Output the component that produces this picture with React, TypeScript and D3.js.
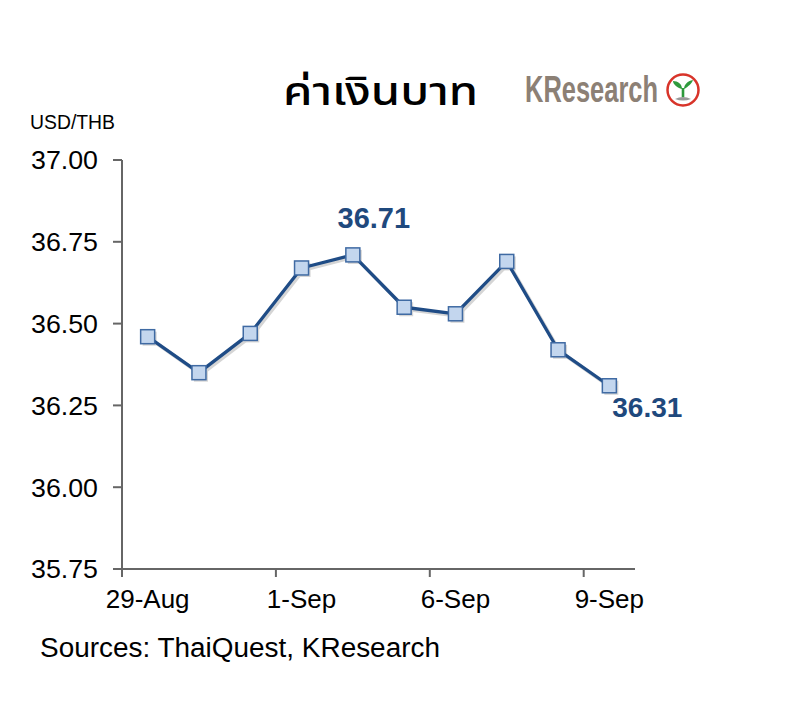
import React from "react";
import * as d3 from "d3";

const dates = ["29-Aug", "30-Aug", "31-Aug", "1-Sep", "2-Sep", "5-Sep", "6-Sep", "7-Sep", "8-Sep", "9-Sep"];
const rates = [36.46, 36.35, 36.47, 36.67, 36.71, 36.55, 36.53, 36.69, 36.42, 36.31];
const yTicks = [35.75, 36.0, 36.25, 36.5, 36.75, 37.0];
const labeledIdx = [0, 3, 6, 9];
const annotations = [
  { i: 4, text: "36.71" },
  { i: 9, text: "36.31" },
];

const W = 787;
const H = 726;
const left = 122, right = 635, top = 160, bottom = 569;
const font = "'Liberation Sans', Arial, sans-serif";

export default function App() {
  const x = d3.scaleBand<string>().domain(dates).range([left, right]).padding(0);
  const y = d3.scaleLinear().domain([35.75, 37.0]).range([bottom, top]);
  const cx = (i: number) => (x(dates[i]) as number) + x.bandwidth() / 2;
  const line = d3
    .line<number>()
    .x((_, i) => cx(i))
    .y((d) => y(d));
  const path = line(rates) || "";
  const lineColor = "#1F4C86";

  return (
    <svg width={W} height={H} style={{ position: "absolute", left: 0, top: 0, background: "#fff" }}>
      <rect width={W} height={H} fill="#fff" />
      {/* Title */}
      <text x={283} y={105} fontSize={40} fontWeight={500} fontFamily="'Noto Sans Thai', 'Noto Sans', sans-serif" fill="#000" textLength={195} lengthAdjust="spacingAndGlyphs">
        ค่าเงินบาท
      </text>
      {/* KResearch logo */}
      <text x={525} y={102} fontSize={36} fontFamily={font} fill="#8C8075" fontWeight="bold" textLength={133} lengthAdjust="spacingAndGlyphs">
        KResearch
      </text>
      <g transform="translate(683,90)">
        <circle r={15.5} fill="#fff" stroke="#D8342A" strokeWidth={2.5} />
        <path d="M-1,-1 C-6,-2 -10,-6 -10,-9 C-5,-9 -1,-6 -1,-1 Z" fill="#2E9A3C" />
        <path d="M1,-1 C5,-3 9,-7 10,-10 C4,-9 1,-5 1,-1 Z" fill="#2E9A3C" />
        <rect x={-1.3} y={-2} width={2.6} height={9} fill="#2E9A3C" />
        <path d="M-8,9 Q0,5 8,9 Q0,12 -8,9 Z" fill="#999" />
      </g>

      {/* Y axis */}
      <text x={30} y={129} fontSize={20} fontFamily={font} fill="#000" textLength={85} lengthAdjust="spacingAndGlyphs">USD/THB</text>
      <line x1={left} x2={left} y1={top} y2={bottom} stroke="#666" strokeWidth={2} />
      {yTicks.map((t) => (
        <g key={t}>
          <line x1={left - 9} x2={left} y1={y(t)} y2={y(t)} stroke="#666" strokeWidth={2} />
          <text x={98} y={y(t)} dy="0.36em" textAnchor="end" fontSize={26} fontFamily={font} fill="#000" textLength={67} lengthAdjust="spacingAndGlyphs">
            {t.toFixed(2)}
          </text>
        </g>
      ))}

      {/* X axis */}
      <line x1={113} x2={right} y1={bottom} y2={bottom} stroke="#666" strokeWidth={2} />
      {labeledIdx.map((i) => (
        <g key={i}>
          <line x1={x(dates[i]) as number} x2={x(dates[i]) as number} y1={bottom} y2={bottom + 8} stroke="#666" strokeWidth={2} />
          <text x={cx(i)} y={608} textAnchor="middle" fontSize={26} fontFamily={font} fill="#000">
            {dates[i]}
          </text>
        </g>
      ))}

      {/* Shadow */}
      <g transform="translate(2,2)" opacity={0.35}>
        <path d={path} fill="none" stroke="#888" strokeWidth={3.5} />
        {rates.map((v, i) => (
          <rect key={i} x={cx(i) - 7} y={y(v) - 7} width={14} height={14} fill="#888" />
        ))}
      </g>
      {/* Line */}
      <path d={path} fill="none" stroke={lineColor} strokeWidth={3.3} strokeLinejoin="round" />
      {rates.map((v, i) => (
        <rect key={i} x={cx(i) - 7} y={y(v) - 7} width={14} height={14} fill="#C3D6EE" stroke="#3F6AA3" strokeWidth={1.5} />
      ))}

      {/* Annotations */}
      <text x={cx(annotations[0].i) + 21} y={228} textAnchor="middle" fontSize={29} fontWeight="bold" fontFamily={font} fill="#1F497D">
        {annotations[0].text}
      </text>
      <text x={cx(annotations[1].i) + 38} y={417} textAnchor="middle" fontSize={28} fontWeight="bold" fontFamily={font} fill="#1F497D">
        {annotations[1].text}
      </text>

      {/* Source */}
      <text x={40} y={657} fontSize={27} fontFamily={font} fill="#000" textLength={400} lengthAdjust="spacingAndGlyphs">
        Sources: ThaiQuest, KResearch
      </text>
    </svg>
  );
}
